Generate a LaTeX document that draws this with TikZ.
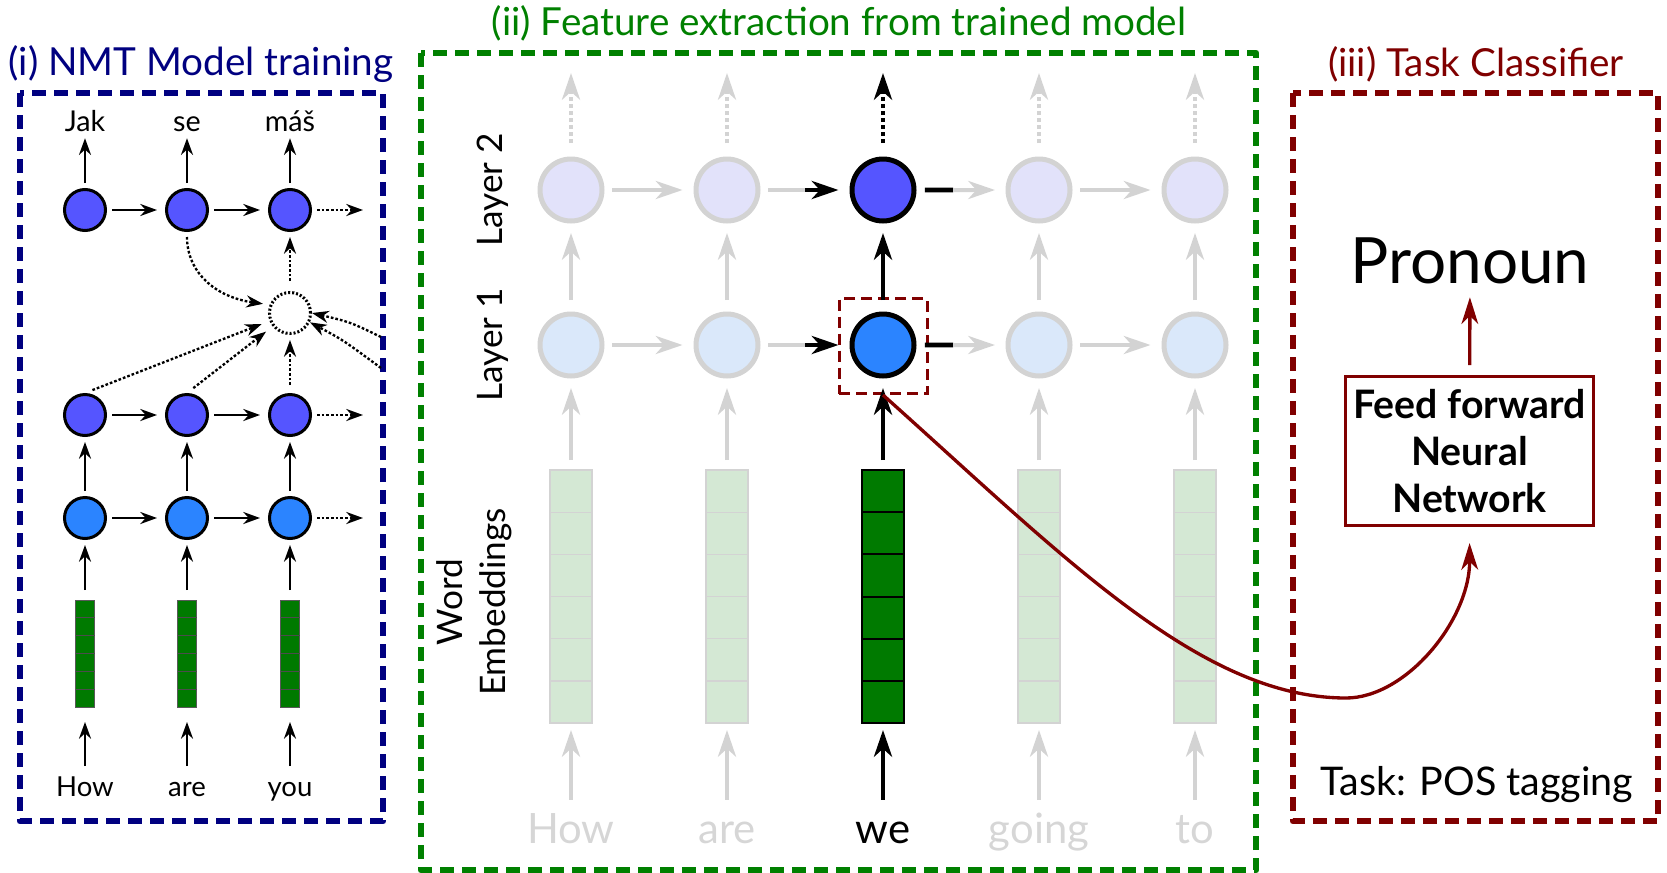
\documentclass[tikz,border=0pt]{standalone}
\usepackage{fontspec}
\setmainfont{Lato}
\usetikzlibrary{arrows.meta,calc}

\definecolor{navyc}{HTML}{000080}
\definecolor{greenc}{HTML}{008000}
\definecolor{maroonc}{HTML}{800000}
\definecolor{decblue}{HTML}{5555FF}
\definecolor{encblue}{HTML}{2B84FF}
\definecolor{fadedec}{HTML}{E2E2FA}
\definecolor{fadeenc}{HTML}{DAE8FA}
\definecolor{fadegray}{HTML}{D3D3D3}
\definecolor{embgreen}{HTML}{007A00}
\definecolor{fadeemb}{HTML}{D4E8D4}
\definecolor{fadetext}{HTML}{D6D6D6}

\begin{document}
\begin{tikzpicture}[x=0.3mm,y=-0.3mm,
  panelframe/.style={line width=2mm, dash pattern=on 4.2mm off 2.4mm, line join=round},
  paneltitle/.style={anchor=base, inner sep=0pt, font=\fontsize{33}{40}\selectfont},
  % encoder-decoder sketch
  unitA/.style={circle, draw=black, line width=0.9mm, minimum size=12.3mm, inner sep=0pt},
  decA/.style={unitA, fill=decblue},
  encA/.style={unitA, fill=encblue},
  attA/.style={unitA, dash pattern=on 0.6mm off 0.6mm, fill=white},
  arrA/.style={line width=0.7mm, -{Stealth[length=5mm,width=3.6mm,inset=1.6mm]}},
  dotA/.style={arrA, dash pattern=on 0.8mm off 0.6mm},
  embA/.style={rectangle, minimum width=5.7mm, minimum height=32.1mm, inner sep=0pt, outer sep=0pt, fill=embgreen, draw=black!65, line width=0.25mm},
  wordA/.style={anchor=base, inner sep=0pt, text height=17.6pt, text depth=0pt, font=\fontsize{23.5}{28}\selectfont},
  outA/.style={anchor=base, inner sep=0pt, text height=18.4pt, text depth=0pt, font=\fontsize{24.5}{29}\selectfont},
  % feature extraction grid
  unitB/.style={circle, line width=1.5mm, minimum size=18.6mm, inner sep=0pt},
  fadeTop/.style={unitB, fill=fadedec, draw=fadegray},
  fadeBot/.style={unitB, fill=fadeenc, draw=fadegray},
  hiTop/.style={unitB, fill=decblue, draw=black},
  hiBot/.style={unitB, fill=encblue, draw=black},
  tipB/.style={-{Stealth[length=8mm,width=5.4mm,inset=2.4mm]}},
  gArr/.style={tipB, draw=fadegray, line width=1.2mm},
  gLine/.style={draw=fadegray, line width=1.2mm},
  bArr/.style={tipB, draw=black, line width=1.4mm},
  bLine/.style={draw=black, line width=1.4mm},
  dotB/.style={dash pattern=on 1.2mm off 0.9mm},
  embB/.style={rectangle, minimum width=12.6mm, minimum height=75.9mm, inner sep=0pt, outer sep=0pt},
  fadeEmb/.style={embB, fill=fadeemb, draw=fadegray, line width=0.4mm},
  hiEmb/.style={embB, fill=embgreen, draw=black, line width=0.6mm},
  wordB/.style={anchor=base, inner sep=0pt, text height=26.8pt, text depth=0pt, font=\fontsize{35.7}{42}\selectfont},
  sideLab/.style={inner sep=0pt, rotate=90, align=center, font=\fontsize{30}{36.7}\selectfont},
  hlBox/.style={rectangle, draw=maroonc, line width=0.9mm, dash pattern=on 3.3mm off 1.8mm, minimum width=26.4mm, minimum height=28.5mm, inner sep=0pt},
  % classifier
  ffnBox/.style={rectangle, draw=maroonc, line width=0.9mm, minimum width=74.4mm, minimum height=44.7mm, align=center, inner sep=0pt, font=\fontsize{33.5}{40}\selectfont\bfseries},
  rArr/.style={draw=maroonc, line width=1mm, -{Stealth[length=8mm,width=5mm,inset=2.4mm]}}
]
\useasboundingbox (0,0) rectangle (1667,873);

% panel frames and titles
\draw[panelframe, navyc] (20,93) rectangle (383,821);
\draw[panelframe, greenc] (421,53) rectangle (1256,870);
\draw[panelframe, maroonc] (1293,93) rectangle (1658,821);
\node[paneltitle, text=navyc] (tt1) at (201,75) {(i) NMT Model training};
\node[paneltitle, text=greenc] (tt2) at (839,35) {(ii) Feature extraction from trained model};
\node[paneltitle, text=maroonc] (tt3) at (1476,76) {(iii) Task Classifier};

% ---------- (i) encoder-decoder with attention ----------
\foreach \i/\x/\o/\w in {1/85/Jak/How, 2/187/se/are, 3/290/máš/you} {
  \node[decA] (d\i) at (\x,210) {};
  \node[decA] (u\i) at (\x,415) {};
  \node[encA] (n\i) at (\x,518) {};
  \node[embA] (s\i) at (\x,653.5) {};
  \node[outA] (o\i) at (\x,131) {\o};
  \node[wordA] (i\i) at (\x,796) {\w};
}
\foreach \i in {1,2,3} {
  \foreach \k in {1,...,5}
    \draw[black!70, line width=0.25mm] ($(s\i.north west)!\k/6!(s\i.south west)$) -- ($(s\i.north east)!\k/6!(s\i.south east)$);
  \draw[arrA, shorten <=1.5mm, shorten >=2.1mm] (d\i) -- (o\i);
  \draw[arrA, shorten <=1.5mm, shorten >=1.5mm] (n\i) -- (u\i);
  \draw[arrA, shorten <=3mm, shorten >=1.5mm] (s\i) -- (n\i);
  \draw[arrA, shorten <=2.7mm, shorten >=4.5mm] (i\i) -- (s\i);
}
\foreach \r in {d,u,n} {
  \draw[arrA, shorten <=1.5mm, shorten >=2.4mm] (\r1) -- (\r2);
  \draw[arrA, shorten <=1.5mm, shorten >=2.4mm] (\r2) -- (\r3);
}
\coordinate (dx) at (363,210);
\coordinate (ux) at (363,415);
\coordinate (nx) at (363,518);
\draw[dotA, shorten <=1.5mm] (d3) -- (dx);
\draw[dotA, shorten <=1.5mm] (u3) -- (ux);
\draw[dotA, shorten <=1.5mm] (n3) -- (nx);

% attention unit
\node[attA] (attn) at (290,313) {};
\draw[dotA, shorten <=2.4mm, shorten >=2.5mm] (u1.north) -- (attn);
\draw[dotA, shorten <=2.4mm, shorten >=2.5mm] (u2.north) -- (attn);
\draw[dotA, shorten <=2.4mm, shorten >=1.5mm] (u3) -- (attn);
\draw[dotA, shorten <=3mm, shorten >=1.5mm] (attn) -- (d3);
\draw[dotA, shorten <=1.5mm, shorten >=2mm] (d2.south) .. controls (187,272) and (215,297) .. (attn.158);
\coordinate (r1) at (381,337);
\coordinate (r2) at (381,368);
\draw[dotA] (r1) .. controls (350,322) .. (attn.east);
\draw[dotA] (r2) .. controls (343,340) .. (attn.-25);

% ---------- (ii) feature extraction ----------
\foreach \i/\x/\w in {1/571/How, 2/727/are, 4/1039/going, 5/1195/to} {
  \node[fadeTop] (b\i) at (\x,190) {};
  \node[fadeBot] (a\i) at (\x,345) {};
  \node[fadeEmb] (e\i) at (\x,596.5) {};
  \node[wordB, text=fadetext] (w\i) at (\x,843) {\w};
  \coordinate (t\i) at (\x,73);
  \foreach \k in {1,...,5}
    \draw[fadegray, line width=0.4mm] ($(e\i.north west)!\k/6!(e\i.south west)$) -- ($(e\i.north east)!\k/6!(e\i.south east)$);
  \draw[gArr, shorten <=3.45mm, shorten >=2.1mm] (w\i) -- (e\i);
  \draw[gArr, shorten <=3mm, shorten >=2.85mm] (e\i) -- (a\i);
  \draw[gArr, shorten <=3.45mm, shorten >=2.85mm] (a\i) -- (b\i);
  \draw[gArr, dotB, shorten <=4mm] (b\i) -- (t\i);
}
\node[hiTop] (b3) at (883,190) {};
\node[hiBot] (a3) at (883,345) {};
\node[hiEmb] (e3) at (883,596.5) {};
\node[wordB] (w3) at (883,843) {we};
\coordinate (t3) at (883,73);
\foreach \k in {1,...,5}
  \draw[black, line width=0.6mm] ($(e3.north west)!\k/6!(e3.south west)$) -- ($(e3.north east)!\k/6!(e3.south east)$);
\node[hlBox] (hl) at (883,346) {};
\draw[bArr, shorten <=3.45mm, shorten >=2.1mm] (w3) -- (e3);
\draw[bArr, shorten <=3mm, shorten >=2.85mm] (e3) -- (a3);
\draw[bArr, shorten <=3.45mm, shorten >=2.85mm] (a3) -- (b3);
\draw[bArr, dotB, shorten <=4mm] (b3) -- (t3);

% recurrent links
\foreach \p/\q in {1/2, 4/5} {
  \draw[gArr, shorten <=2.25mm, shorten >=3.3mm] (a\p) -- (a\q);
  \draw[gArr, shorten <=2.25mm, shorten >=3.3mm] (b\p) -- (b\q);
}
\coordinate (ma) at ($(a2)!0.5!(a3)$);
\coordinate (mb) at ($(b2)!0.5!(b3)$);
\coordinate (na) at ($(a3)!0.45!(a4)$);
\coordinate (nb) at ($(b3)!0.45!(b4)$);
\draw[gLine, shorten <=2.25mm] (a2) -- (ma);
\draw[gLine, shorten <=2.25mm] (b2) -- (mb);
\draw[bArr, shorten >=3.3mm] (ma) -- (a3);
\draw[bArr, shorten >=3.3mm] (mb) -- (b3);
\draw[bLine, shorten <=2.5mm] (a3) -- (na);
\draw[bLine, shorten <=2.5mm] (b3) -- (nb);
\draw[gArr, shorten >=3.15mm] (na) -- (a4);
\draw[gArr, shorten >=3.15mm] (nb) -- (b4);

% row labels
\node[sideLab] (lay2) at (493,190) {Layer 2};
\node[sideLab] (lay1) at (493,345) {Layer 1};
\node[sideLab] (wemb) at (474,602) {Word\\Embeddings};

% ---------- (iii) classifier ----------
\node[ffnBox] (ffn) at (1469.5,451) {Feed forward\\Neural\\Network};
\node[anchor=base, inner sep=0pt, text depth=0pt, font=\fontsize{54.5}{64}\selectfont] (pron) at (1470,283) {Pronoun};
\draw[rArr, shorten <=3mm, shorten >=4.2mm] (ffn) -- (pron);
\node[anchor=base, inner sep=0pt, font=\fontsize{33.7}{40}\selectfont] (task) at (1477,795) {Task: POS tagging};

% extracted feature fed to the classifier
\draw[rArr, shorten >=4.8mm] (hl.south) .. controls (1062,555) and (1200,698) .. (1346,698)
  .. controls (1406,698) and (1470,620) .. (ffn.south);
\end{tikzpicture}
\end{document}
